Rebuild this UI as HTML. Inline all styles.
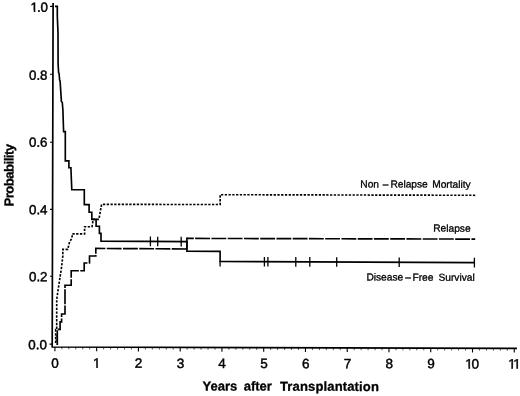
<!DOCTYPE html>
<html><head><meta charset="utf-8"><title>Survival</title>
<style>html,body{margin:0;padding:0;background:#fff}svg{display:block}text{font-family:"Liberation Sans",sans-serif;fill:#000;stroke:#000;stroke-width:0.3px}</style></head><body>
<svg width="520" height="396" viewBox="0 0 520 396">
<rect width="520" height="396" fill="#fff"/>
<path d="M53.11,3 L52.20,346.99 L517,348.39" stroke="#000" stroke-width="1.7" fill="none" stroke-linejoin="miter"/>
<path d="M49.5,344.1L52.20,344.1M50,276.3L52.38,276.3M50,209.4L52.56,209.4M50,142.3L52.74,142.3M50,74.2L52.92,74.2M50,6.4L53.10,6.4M54.90,347.00V351.20M96.66,347.12V351.32M138.42,347.25V351.45M180.18,347.38V351.58M221.94,347.50V351.70M263.70,347.63V351.83M305.46,347.75V351.95M347.22,347.88V352.08M388.98,348.00V352.20M430.74,348.13V352.33M472.50,348.25V352.45M514.26,348.38V352.58" stroke="#000" stroke-width="1.1" fill="none"/>
<path d="M61.86,347.02V349.32M68.82,347.04V349.34M75.78,347.06V349.36M82.74,347.08V349.38M89.70,347.10V349.40M103.62,347.15V349.45M110.58,347.17V349.47M117.54,347.19V349.49M124.50,347.21V349.51M131.46,347.23V349.53M145.38,347.27V349.57M152.34,347.29V349.59M159.30,347.31V349.61M166.26,347.33V349.63M173.22,347.35V349.65M187.14,347.40V349.70M194.10,347.42V349.72M201.06,347.44V349.74M208.02,347.46V349.76M214.98,347.48V349.78M228.90,347.52V349.82M235.86,347.54V349.84M242.82,347.56V349.86M249.78,347.58V349.88M256.74,347.61V349.91M270.66,347.65V349.95M277.62,347.67V349.97M284.58,347.69V349.99M291.54,347.71V350.01M298.50,347.73V350.03M312.42,347.77V350.07M319.38,347.79V350.09M326.34,347.81V350.11M333.30,347.83V350.13M340.26,347.86V350.16M354.18,347.90V350.20M361.14,347.92V350.22M368.10,347.94V350.24M375.06,347.96V350.26M382.02,347.98V350.28M395.94,348.02V350.32M402.90,348.04V350.34M409.86,348.06V350.36M416.82,348.09V350.39M423.78,348.11V350.41M437.70,348.15V350.45M444.66,348.17V350.47M451.62,348.19V350.49M458.58,348.21V350.51M465.54,348.23V350.53M479.46,348.27V350.57M486.42,348.29V350.59M493.38,348.32V350.62M500.34,348.34V350.64M507.30,348.36V350.66" stroke="#000" stroke-opacity="0.65" stroke-width="1" fill="none"/>
<text transform="rotate(0.17 28.3 349.3)" x="28.31" y="349.30" font-size="13.3" style="stroke-width:0.45px">0.0</text>
<text transform="rotate(0.17 29.0 281.3)" x="29.01" y="281.30" font-size="13.3" style="stroke-width:0.45px">0.2</text>
<text transform="rotate(0.17 29.0 214.3)" x="29.01" y="214.30" font-size="13.3" style="stroke-width:0.45px">0.4</text>
<text transform="rotate(0.17 29.0 146.8)" x="29.01" y="146.80" font-size="13.3" style="stroke-width:0.45px">0.6</text>
<text transform="rotate(0.17 29.0 79.7)" x="29.01" y="79.70" font-size="13.3" style="stroke-width:0.45px">0.8</text>
<clipPath id="c0"><rect x="28.61" y="-1.50" width="21.39" height="11.51"/><rect x="33.71" y="9.51" width="1.67" height="4"/><rect x="38.04" y="9.51" width="3.77" height="4"/><rect x="41.54" y="9.51" width="7.46" height="4"/></clipPath>
<g clip-path="url(#c0)"><text transform="rotate(0.17 30.6 11.8)"  y="11.80" font-size="13.3" style="stroke-width:0.45px"><tspan x="30.61">1</tspan><tspan x="37.11">.</tspan><tspan x="40.61">0</tspan></text></g>
<text transform="rotate(0.17 51.3 367.7)" x="51.35" y="367.75" font-size="13.5" style="stroke-width:0.45px">0</text>
<clipPath id="c1"><rect x="91.11" y="354.32" width="11.51" height="11.69"/><rect x="96.25" y="365.51" width="1.69" height="4"/></clipPath>
<g clip-path="url(#c1)"><text transform="rotate(0.17 93.1 367.8)" x="93.11" y="367.82" font-size="13.5" style="stroke-width:0.45px">1</text></g>
<text transform="rotate(0.17 134.9 367.9)" x="134.87" y="367.89" font-size="13.5" style="stroke-width:0.45px">2</text>
<text transform="rotate(0.17 176.6 368.0)" x="176.63" y="367.96" font-size="13.5" style="stroke-width:0.45px">3</text>
<text transform="rotate(0.17 218.4 368.0)" x="218.39" y="368.03" font-size="13.5" style="stroke-width:0.45px">4</text>
<text transform="rotate(0.17 260.1 368.1)" x="260.15" y="368.10" font-size="13.5" style="stroke-width:0.45px">5</text>
<text transform="rotate(0.17 301.9 368.2)" x="301.91" y="368.18" font-size="13.5" style="stroke-width:0.45px">6</text>
<text transform="rotate(0.17 343.7 368.2)" x="343.67" y="368.25" font-size="13.5" style="stroke-width:0.45px">7</text>
<text transform="rotate(0.17 385.4 368.3)" x="385.43" y="368.32" font-size="13.5" style="stroke-width:0.45px">8</text>
<text transform="rotate(0.17 427.2 368.4)" x="427.19" y="368.39" font-size="13.5" style="stroke-width:0.45px">9</text>
<clipPath id="c2"><rect x="463.29" y="354.96" width="17.71" height="11.69"/><rect x="468.44" y="366.15" width="1.69" height="4"/><rect x="472.44" y="366.15" width="7.56" height="4"/></clipPath>
<g clip-path="url(#c2)"><text transform="rotate(0.17 465.3 368.5)"  y="368.46" font-size="13.5" style="stroke-width:0.45px"><tspan x="465.29">1</tspan><tspan x="471.50">0</tspan></text></g>
<clipPath id="c3"><rect x="506.15" y="355.03" width="16.56" height="11.69"/><rect x="511.30" y="366.22" width="1.69" height="4"/><rect x="516.36" y="366.22" width="1.69" height="4"/></clipPath>
<g clip-path="url(#c3)"><text transform="rotate(0.17 508.2 368.5)"  y="368.53" font-size="13.5" style="stroke-width:0.45px"><tspan x="508.15">1</tspan><tspan x="513.21">1</tspan></text></g>
<text transform="translate(13.5,175.5) rotate(-89.83)" font-size="13.1" font-weight="bold" text-anchor="middle" letter-spacing="-0.5">Probability</text>
<text transform="rotate(0.17 290 391)" y="390.7" font-size="13" font-weight="bold"><tspan x="202.6">Years </tspan><tspan x="243.7">after </tspan><tspan x="280.0" letter-spacing="0.15">Transplantation</tspan></text>
<path d="M55.7,344.2V329.6H56.7V300L57.2,296L59.3,282L61.6,267L62.8,256V249.4H67.8L69.6,241.6L71.9,238.5L72.3,233.9H84.6V226.7H92L93.3,219.3H98.9L101.6,204.4L220.15,204.5V194.7L475.2,195.3" stroke="#000" stroke-width="1.65" fill="none" stroke-dasharray="2.3 1.46" stroke-dashoffset="2.51"/>
<path d="M55.7,340.2H57.3M55.7,336H57.3" stroke="#000" stroke-width="1.4" fill="none" stroke-dasharray="1.2 0.6"/>
<path d="M55.4,344.2H57.3V329.4H60.1V321.8H61.6V314H65V285.2H71.2V270.7H84.2V263H89.5V256H95.8V248.4L186.9,249.0" stroke="#000" stroke-width="1.65" fill="none" stroke-dasharray="14.85 1.4" stroke-dashoffset="-0.9"/>
<path d="M186.9,249.6V237.6" stroke="#000" stroke-width="1.65" fill="none"/>
<path d="M186.9,238.4L475.2,239.1" stroke="#000" stroke-width="1.65" fill="none" stroke-dasharray="14.85 1.4" stroke-dashoffset="7.95"/>
<path d="M55,6.4H57.3V16L58,33L58.1,64L58.6,72.5L59.1,73.5L59.6,80L60.1,81L61,95L61.4,101.5L62.3,102.5L62.9,110L63.6,131.6H65.3V160.9H68.9V167.7H70.9L71.8,189.7H84.3V204.6H89.1V212.2H91.8V219.3H96.1V226.2H99.4V233.4H101V241.1L186.9,241.6V251.2L220.1,251.4V261.5L474.4,262.6" stroke="#000" stroke-width="1.65" fill="none" stroke-linejoin="miter"/>
<path d="M150.4,236.60V246.20M157.7,236.65V246.25M181.2,236.79V246.39M264.4,256.89V266.49M267.9,256.91V266.51M295.8,257.03V266.63M309.8,257.09V266.69M336.7,257.20V266.80M399.2,257.47V267.07M474.4,257.80V267.40M220.1,261V266.5" stroke="#000" stroke-width="1.3" fill="none"/>
<text transform="rotate(0.17 360.3 187.4)" y="187.4" font-size="10.2"><tspan x="360.3">Non </tspan><tspan x="382.7">– </tspan><tspan x="390.4">Relapse </tspan><tspan x="432.2">Mortality</tspan></text>
<text transform="rotate(0.17 433.2 231.6)" y="231.6" font-size="10.2"><tspan x="433.2">Relapse</tspan></text>
<text transform="rotate(0.17 366.4 280.5)" y="280.5" font-size="10.2"><tspan x="366.4">Disease </tspan><tspan x="405.3">– </tspan><tspan x="412.5">Free </tspan><tspan x="438.5">Survival</tspan></text>
</svg></body></html>
